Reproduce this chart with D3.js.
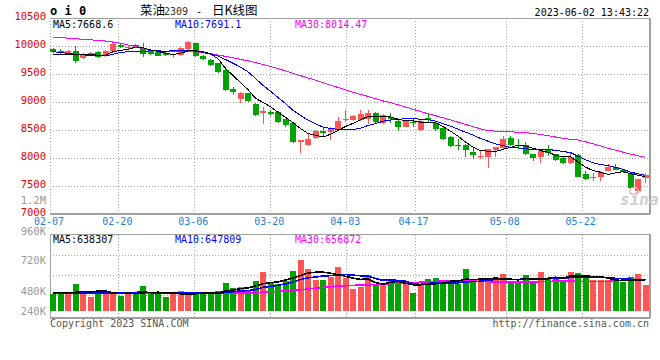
<!DOCTYPE html>
<html><head><meta charset="utf-8">
<script src="https://cdn.jsdelivr.net/npm/d3@7"></script>
<style>
html,body{margin:0;padding:0;background:#fff;}
svg{display:block;}
text{font-family:"DejaVu Sans Mono",monospace;}
</style>
</head><body>
<svg id="c" width="660" height="360"></svg>
<script>
// ---------------- data ----------------
const dates = ["02-07","02-08","02-09","02-10","02-13","02-14","02-15","02-16","02-17","02-20","02-21","02-22","02-23","02-24","02-27","02-28",
"03-01","03-02","03-03","03-06","03-07","03-08","03-09","03-10","03-13","03-14","03-15","03-16","03-17","03-20","03-21","03-22","03-23","03-24","03-27","03-28","03-29","03-30","03-31",
"04-03","04-04","04-06","04-07","04-10","04-11","04-12","04-13","04-14","04-17","04-18","04-19","04-20","04-21","04-24","04-25","04-26","04-27","04-28",
"05-04","05-05","05-08","05-09","05-10","05-11","05-12","05-15","05-16","05-17","05-18","05-19","05-22","05-23","05-24","05-25","05-26","05-29","05-30","05-31",
"06-01","06-02"];
const tickDates = ["02-07","02-20","03-06","03-20","04-03","04-17","05-08","05-22"];
const priceTicks = [7000,7500,8000,8500,9000,9500,10000,10500];
const volTickLabels = ["1.2M","960K","720K","480K","240K"];
const volTickValues = [1200,960,720,480,240];

const open = [9941,9911,9870,9911,9780,9827,9893,9821,9916,10018,
 9960,10010,9959,9905,9887,9870,9840,9840,9941,10048,
 9827,9750,9690,9580,9232,9048,9155,8964,8798,8830,
 8827,8691,8630,8280,8232,8352,8488,8470,8512,8684,
 8679,8679,8690,8810,8630,8738,8660,8560,8645,8500,
 8710,8620,8530,8380,8228,8232,8113,8028,8023,8143,
 8173,8363,8240,8232,8066,8023,8155,8066,8005,7905,
 8054,7709,7655,7666,7773,7834,7780,7727,7410,7650];
const close = [9893,9870,9905,9738,9857,9880,9798,9916,10036,9975,
 9980,9990,9852,9860,9827,9840,9855,9970,10071,9827,
 9768,9660,9540,9214,9173,9155,9023,8768,8840,8790,
 8648,8589,8291,8316,8339,8488,8440,8530,8660,8700,
 8755,8780,8800,8648,8768,8690,8560,8655,8635,8660,
 8670,8512,8334,8214,8222,8143,8054,8034,8155,8191,
 8339,8232,8225,8071,8005,8130,8084,7964,7905,8023,
 7666,7625,7662,7755,7834,7790,7750,7459,7620,7705];
const high = [9960,9955,9920,10000,9870,9895,9910,9930,10060,10030,
 10000,10040,10048,9920,9905,9890,9865,9985,10085,10060,
 9840,9765,9700,9590,9273,9170,9165,8985,8916,8860,
 8840,8700,8640,8320,8430,8500,8560,8545,8740,8850,
 8770,8860,8860,8820,8780,8810,8670,8670,8710,8670,
 8785,8630,8545,8395,8340,8245,8190,8140,8165,8200,
 8393,8390,8333,8291,8075,8140,8232,8075,8015,8095,
 8075,7768,7738,7765,7893,7890,7790,7735,7630,7725];
const low = [9880,9860,9855,9702,9765,9815,9785,9800,9900,9960,
 9945,9975,9810,9840,9815,9825,9780,9830,9930,9810,
 9750,9640,9510,9200,9125,8976,9000,8750,8602,8750,
 8630,8560,8270,8089,8220,8340,8380,8330,8500,8648,
 8665,8665,8607,8630,8615,8620,8480,8545,8559,8490,
 8619,8480,8320,8200,8143,8023,7977,7990,7816,8023,
 8160,8220,8155,8060,7950,7905,8036,7950,7895,7895,
 7655,7615,7595,7595,7765,7780,7735,7445,7380,7560];

const ma5 = [9857,9850,9845,9842,9853,9850,9836,9838,9897,9921,
 9941,9979,9967,9931,9902,9874,9847,9870,9913,9913,
 9898,9859,9773,9602,9471,9348,9221,9067,8992,8915,
 8814,8727,8632,8527,8437,8405,8375,8423,8491,8564,
 8617,8685,8739,8737,8750,8737,8693,8664,8662,8640,
 8636,8626,8562,8478,8390,8285,8193,8133,8122,8115,
 8155,8190,8228,8212,8174,8133,8103,8051,8018,8021,
 7928,7837,7776,7746,7708,7733,7758,7718,7691,7669];
const ma10 = [9898,9885,9868,9850,9840,9836,9830,9825,9850,9887,
 9896,9908,9903,9914,9912,9908,9913,9919,9922,9908,
 9886,9853,9822,9758,9692,9623,9540,9420,9297,9193,
 9081,8974,8850,8760,8676,8610,8551,8528,8509,8501,
 8511,8530,8581,8614,8657,8677,8689,8702,8700,8695,
 8687,8660,8613,8570,8515,8461,8410,8348,8300,8253,
 8220,8192,8181,8167,8145,8144,8147,8140,8115,8098,
 8031,7970,7914,7882,7865,7831,7798,7747,7719,7691];
const ma30 = [10155,10150,10140,10130,10120,10110,10100,10089,10070,10050,
 10018,9990,9959,9925,9910,9905,9900,9898,9898,9895,
 9885,9865,9839,9815,9790,9760,9735,9705,9670,9635,
 9595,9555,9510,9470,9430,9390,9345,9300,9260,9215,
 9175,9135,9100,9060,9020,8988,8950,8910,8870,8830,
 8790,8755,8720,8680,8640,8600,8560,8520,8488,8480,
 8475,8468,8460,8452,8440,8420,8400,8375,8350,8335,
 8321,8290,8255,8215,8173,8140,8105,8070,8040,8014];

// volume in thousands
const volume = [350,350,392,566,405,300,419,419,363,321,
 350,350,524,392,350,300,350,419,350,392,
 350,350,419,587,489,503,419,629,818,608,
 573,629,839,1069,881,644,644,719,929,698,
 461,510,755,545,545,650,614,560,384,545,
 671,698,614,593,560,881,650,650,629,650,
 776,629,587,755,587,818,671,713,650,818,
 797,698,650,650,650,629,614,713,776,545];
const vma5 = [392,392,392,392,413,403,416,422,381,364,
 374,361,382,387,393,383,383,362,354,362,
 372,372,372,420,439,470,483,525,572,595,
 609,651,693,744,798,812,815,791,763,727,
 690,663,671,594,563,601,622,583,551,551,
 555,572,582,624,627,669,660,667,674,692,
 671,667,654,679,667,675,684,709,688,734,
 730,735,723,723,689,650,635,640,650,638];
const vma10 = [372,372,372,373,375,378,380,380,380,389,
 389,389,402,384,379,379,372,372,371,378,
 378,378,367,387,401,421,428,449,496,517,
 540,567,609,658,697,711,733,742,754,763,
 751,739,731,679,645,646,643,627,573,557,
 578,597,583,588,589,612,616,625,649,660,
 670,664,661,677,680,673,676,682,684,701,
 703,710,716,706,700,685,675,665,655,648];
const vma30 = [370,370,370,370,370,370,370,370,370,370,
 370,370,370,370,370,370,370,370,370,370,
 370,370,370,372,374,377,380,385,395,405,
 412,419,430,445,461,478,495,510,522,530,
 537,543,548,556,565,573,581,588,595,603,
 612,620,629,630,630,629,625,620,615,610,
 608,608,608,608,610,615,620,625,629,625,
 622,618,615,615,622,630,640,650,654,657];

const priceLegend = ["MA5:7668.6","MA10:7691.1","MA30:8014.47"];
const volLegend = ["MA5:638307","MA10:647809","MA30:656872"];
const legendColors = ["#000000","#0000ff","#ff00ff"];
const title = ["菜油","2309","-","日K线图"];
const stamp = "2023-06-02 13:43:22";

// ---------------- drawing ----------------
const RED = "#ff5555", GREEN = "#00a300", GRID = "#a8a8a8", BORDER = "#a0a0a0";
const svg = d3.select("#c");
const n = dates.length;
const xb = d3.scaleBand().domain(d3.range(n)).range([49.25, 649.25]).paddingInner(0.2).paddingOuter(0.1);
const bw = xb.bandwidth();
const xg = d3.scaleLinear().domain([0, n - 1]).range([50, 650]);
const y = d3.scaleLinear().domain([7000, 10500]).range([214, 18]);
const yv = d3.scaleLinear().domain([0, 650]).range([311, 280]);
const yvLab = d3.scaleLinear().domain(volTickValues).range([200, 231, 260, 291, 311]);
const yvGrid = d3.scaleLinear().domain([0, 4]).range([235, 315]);
const tickIdx = tickDates.map(d => dates.indexOf(d));
const px = v => Math.round(v) + 0.5;

const g = svg.append("g").attr("shape-rendering", "crispEdges");

// main grid
g.selectAll(".hg").data(priceTicks.filter(v => v > 7000 && v < 10500)).join("line")
  .attr("x1", 50).attr("x2", 649).attr("y1", d => px(y(d))).attr("y2", d => px(y(d)))
  .attr("stroke", GRID).attr("stroke-dasharray", "1,2");
g.selectAll(".vg").data(tickIdx).join("line")
  .attr("x1", d => px(xg(d))).attr("x2", d => px(xg(d))).attr("y1", 18).attr("y2", 213)
  .attr("stroke", GRID).attr("stroke-dasharray", "1,2");
// main borders
g.append("line").attr("x1", 50).attr("x2", 650).attr("y1", 18.5).attr("y2", 18.5).attr("stroke", BORDER);
g.append("line").attr("x1", 50).attr("x2", 650).attr("y1", 213.5).attr("y2", 213.5).attr("stroke", BORDER).attr("stroke-width", 2);
g.append("line").attr("x1", 649.5).attr("x2", 649.5).attr("y1", 18).attr("y2", 214).attr("stroke", BORDER).attr("stroke-width", 2);

// volume grid
g.selectAll(".vhg").data([1, 2, 3]).join("line")
  .attr("x1", 50).attr("x2", 649).attr("y1", d => px(yvGrid(d))).attr("y2", d => px(yvGrid(d)))
  .attr("stroke", GRID).attr("stroke-dasharray", "1,2");
g.selectAll(".vvg").data(tickIdx.slice(1)).join("line")
  .attr("x1", d => px(xg(d))).attr("x2", d => px(xg(d))).attr("y1", 235).attr("y2", 317)
  .attr("stroke", GRID).attr("stroke-dasharray", "1,2");
g.append("line").attr("x1", 50).attr("x2", 650).attr("y1", 234.5).attr("y2", 234.5).attr("stroke", BORDER);
g.append("line").attr("x1", 50.5).attr("x2", 50.5).attr("y1", 234).attr("y2", 318).attr("stroke", BORDER);
g.append("line").attr("x1", 50).attr("x2", 650).attr("y1", 317.5).attr("y2", 317.5).attr("stroke", BORDER).attr("stroke-width", 2);
g.append("line").attr("x1", 649.5).attr("x2", 649.5).attr("y1", 234).attr("y2", 318).attr("stroke", BORDER).attr("stroke-width", 2);

// watermark
const wm = svg.append("g").attr("opacity", 0.9);
wm.append("text").attr("x", 620).attr("y", 205).attr("font-family", "Liberation Sans, Arial, sans-serif")
  .attr("font-style", "italic").attr("font-weight", "bold").attr("font-size", 16).attr("fill", "#cacaca").text("sina");
wm.append("ellipse").attr("cx", 634).attr("cy", 191).attr("rx", 4.5).attr("ry", 3.5)
  .attr("fill", "none").attr("stroke", "#f2b0b0").attr("stroke-width", 1.5);

// candles
const up = i => close[i] >= open[i];
const cg = g.append("g");
cg.selectAll(".wick").data(d3.range(n)).join("line")
  .attr("x1", i => xb(i) + bw / 2).attr("x2", i => xb(i) + bw / 2)
  .attr("y1", i => y(high[i])).attr("y2", i => y(low[i]))
  .attr("stroke", i => up(i) ? RED : GREEN);
cg.selectAll(".body").data(d3.range(n)).join("rect")
  .attr("x", i => xb(i)).attr("width", bw)
  .attr("y", i => y(Math.max(open[i], close[i])))
  .attr("height", i => Math.max(1, y(Math.min(open[i], close[i])) - y(Math.max(open[i], close[i]))))
  .attr("fill", i => up(i) ? RED : GREEN);

// MA lines
const line = arr => d3.line().x((d, i) => xb(i) + bw / 2).y(d => y(d))(arr);
[ma30, ma10, ma5].forEach((arr, k) => {
  g.append("path").attr("d", line(arr)).attr("fill", "none")
    .attr("stroke", ["#ff00ff", "#0000ff", "#000000"][k]).attr("stroke-width", 1);
});

// volume bars
g.selectAll(".vb").data(d3.range(n)).join("rect")
  .attr("x", i => xb(i)).attr("width", bw)
  .attr("y", i => yv(volume[i])).attr("height", i => yv(0) - yv(volume[i]))
  .attr("fill", i => up(i) ? RED : GREEN);
const vline = arr => d3.line().x((d, i) => xb(i) + bw / 2).y(d => yv(d))(arr);
[vma30, vma10, vma5].forEach((arr, k) => {
  g.append("path").attr("d", vline(arr)).attr("fill", "none")
    .attr("stroke", ["#ff00ff", "#0000ff", "#000000"][k]).attr("stroke-width", 1.6);
});

// ---------- texts ----------
const T = svg.append("g").attr("font-size", 10);
// price labels
T.selectAll(".pl").data(priceTicks).join("text")
  .attr("x", 46).attr("y", d => y(d) - 1.5).attr("dy", "0.36em").attr("text-anchor", "end")
  .attr("fill", "#e80000").attr("font-size", 10.5).text(d => d);
// volume labels
T.selectAll(".vl").data(volTickValues).join("text")
  .attr("x", 46).attr("y", d => yvLab(d)).attr("dy", "0.36em").attr("text-anchor", "end")
  .attr("fill", "#9a9a9a").attr("font-size", 10.5).text((d, i) => volTickLabels[i]);
// date labels
T.selectAll(".dl").data(tickIdx).join("text")
  .attr("x", d => xg(d) - 1).attr("y", 221.7).attr("dy", "0.36em").attr("text-anchor", "middle")
  .attr("fill", "#1a82d6").attr("font-size", 10).text(d => dates[d]);
// legends
const legX = [53, 175, 295];
T.selectAll(".lg").data(priceLegend).join("text")
  .attr("x", (d, i) => legX[i]).attr("y", 24).attr("dy", "0.36em")
  .attr("fill", (d, i) => legendColors[i]).text(d => d);
T.selectAll(".vlg").data(volLegend).join("text")
  .attr("x", (d, i) => legX[i]).attr("y", 239.5).attr("dy", "0.36em")
  .attr("fill", (d, i) => legendColors[i]).text(d => d);
// header
T.append("text").attr("x", 50).attr("y", 15).attr("font-size", 12).attr("font-weight", "bold").attr("fill", "#000").text("o i 0");
const tt = T.append("text").attr("y", 14.5).attr("fill", "#000");
tt.append("tspan").attr("x", 140).attr("font-family", "Noto Sans CJK SC").attr("font-size", 12.5).text(title[0]);
tt.append("tspan").attr("x", 164).attr("font-size", 10).attr("fill", "#333").text(title[1]);
tt.append("tspan").attr("x", 196).attr("font-size", 10).text(title[2]);
tt.append("tspan").attr("x", 212).attr("font-family", "Noto Sans CJK SC").attr("font-size", 12.5).text(title[3]);
T.append("text").attr("x", 649).attr("y", 12.7).attr("dy", "0.36em").attr("text-anchor", "end").attr("fill", "#000").text(stamp);
// footer
T.append("text").attr("x", 50).attr("y", 323.5).attr("dy", "0.36em").attr("fill", "#555").text("Copyright 2023 SINA.COM");
T.append("text").attr("x", 649).attr("y", 323.5).attr("dy", "0.36em").attr("text-anchor", "end").attr("fill", "#555").text("http://finance.sina.com.cn");
</script>
</body></html>
